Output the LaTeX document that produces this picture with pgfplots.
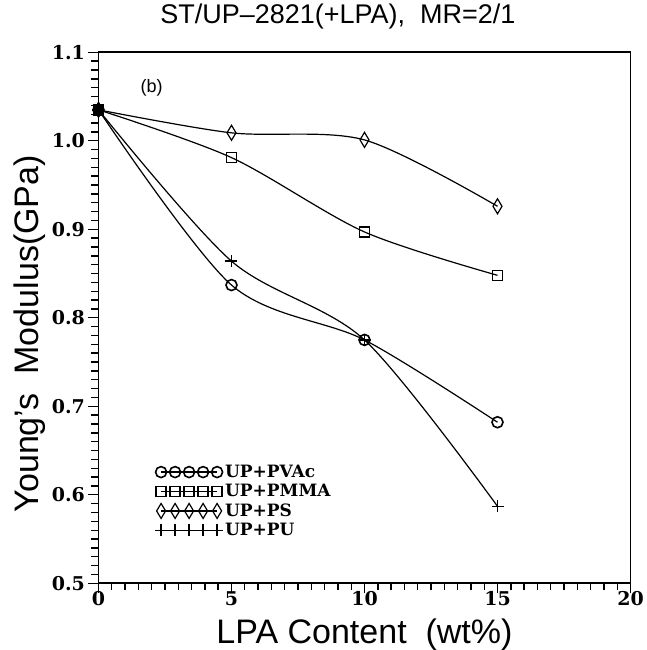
\documentclass[border=0pt]{standalone}
\usepackage{fontspec}
\setmainfont{Liberation Sans}
\newfontfamily\tickfont{DejaVu Serif}
\usepackage{pgfplots}
\pgfplotsset{compat=1.18}
\begin{document}
\begin{tikzpicture}
\useasboundingbox (-98.5pt,-66.7pt) rectangle (547.5pt,583.3pt);
\begin{axis}[
  scale only axis, width=532pt, height=531pt,
  xmin=0, xmax=20, ymin=0.5, ymax=1.1,
  xtick={0,5,10,15,20}, ytick={0.5,0.6,0.7,0.8,0.9,1.0,1.1},
  minor x tick num=9, minor y tick num=9,
  tick align=outside, xtick pos=bottom, ytick pos=left,
  major tick length=10pt, minor tick length=7pt,
  every tick/.style={black, line width=1.4pt},
  axis line style={line width=1.8pt},
  yticklabel style={/pgf/number format/.cd, fixed, fixed zerofill, precision=1},
  /pgf/number format/assume math mode=true,
  tick label style={font=\tickfont\bfseries\fontsize{19}{22}\selectfont},
  xticklabel style={yshift=3pt, inner sep=1pt},
  xlabel={LPA Content\ \ (wt\%)},
  ylabel={Young's\ \ Modulus(GPa)},
  label style={font=\fontsize{34}{40}\selectfont},
  xlabel style={at={(axis description cs:0.5,-0.113)}, anchor=base},
  ylabel style={at={(axis description cs:-0.13,0.47)}, anchor=center},
  title={ST/UP\textendash 2821(+LPA),\ \ MR=2/1},
  title style={font=\fontsize{27}{32}\selectfont, at={(axis description cs:0.45,1.057)}, anchor=center},
  clip=false,
  legend style={draw=none, fill=none, at={(axis cs:2.12,0.636)}, anchor=north west,
    font=\tickfont\bfseries\fontsize{17}{19}\selectfont, inner sep=0pt, row sep=1.5pt},
  legend cell align=left,
  legend image code/.code={\draw[#1] plot coordinates {(0pt,0pt)(14pt,0pt)(28pt,0pt)(42pt,0pt)(56pt,0pt)};},
  every axis plot/.append style={black, line width=1.2pt, mark options={solid, line width=1.6pt}},
]
\addplot[smooth, mark=o, mark size=5.5pt] coordinates {(0,1.035)(5,0.837)(10,0.775)(15,0.682)};
\addlegendentry{UP+PVAc}
\addplot[smooth, mark=square, mark size=5pt] coordinates {(0,1.035)(5,0.981)(10,0.897)(15,0.848)};
\addlegendentry{UP+PMMA}
\addplot[smooth, mark=diamond, mark size=7.5pt, mark options={xscale=0.8}] coordinates {(0,1.035)(5,1.009)(10,1.001)(15,0.926)};
\addlegendentry{UP+PS}
\addplot[smooth, mark=+, mark size=6pt] coordinates {(0,1.035)(5,0.864)(10,0.775)(15,0.587)};
\addlegendentry{UP+PU}
\addplot[only marks, mark=*, mark size=4.5pt, forget plot] coordinates {(0,1.035)};
\node[font=\fontsize{18}{22}\selectfont] at (axis cs:2.0,1.06) {(b)};
\end{axis}
\end{tikzpicture}
\end{document}
